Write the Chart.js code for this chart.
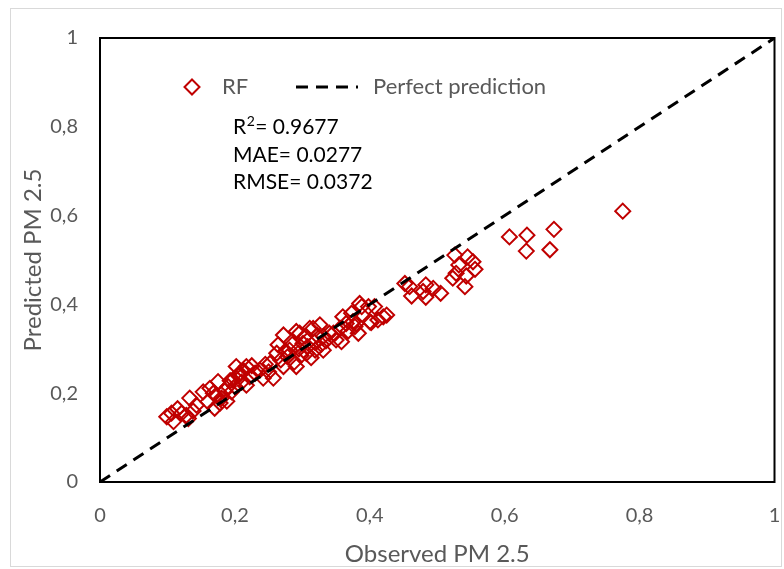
<!DOCTYPE html>
<html>
<head>
<meta charset="utf-8">
<script src="https://cdn.jsdelivr.net/npm/chart.js@4/dist/chart.umd.min.js"></script>
<style>
  body { margin: 0; background: #fff; }
  #wrap { width: 784px; height: 569px; position: relative; }
</style>
</head>
<body>
<div id="wrap"><canvas id="pmChart"></canvas></div>
<script>
// Observed vs predicted PM 2.5 (normalised)
const observed = [
    0.099, 0.109, 0.106, 0.121, 0.115, 0.128, 0.131, 0.133, 0.143, 0.138,
    0.153, 0.160, 0.163, 0.170, 0.175, 0.180, 0.172, 0.185, 0.190, 0.195,
    0.200, 0.202, 0.178, 0.168, 0.188, 0.193, 0.197, 0.205, 0.210, 0.213,
    0.217, 0.217, 0.207, 0.222, 0.225, 0.230, 0.237, 0.242, 0.245, 0.250,
    0.252, 0.257, 0.262, 0.264, 0.268, 0.272, 0.272, 0.275, 0.278, 0.281,
    0.285, 0.288, 0.291, 0.291, 0.295, 0.296, 0.298, 0.301, 0.304, 0.306,
    0.308, 0.311, 0.313, 0.316, 0.318, 0.319, 0.322, 0.326, 0.328, 0.331,
    0.331, 0.335, 0.340, 0.346, 0.350, 0.356, 0.358, 0.360, 0.365, 0.368,
    0.373, 0.375, 0.378, 0.380, 0.383, 0.385, 0.388, 0.398, 0.400, 0.402,
    0.407, 0.412, 0.420, 0.425, 0.452, 0.459, 0.462, 0.479, 0.483, 0.483,
    0.494, 0.505, 0.523, 0.526, 0.528, 0.532, 0.541, 0.543, 0.545, 0.553,
    0.556, 0.607, 0.632, 0.633, 0.667, 0.673, 0.775
];
const predicted = [
    0.147, 0.136, 0.155, 0.155, 0.165, 0.150, 0.143, 0.189, 0.173, 0.160,
    0.203, 0.181, 0.211, 0.166, 0.226, 0.189, 0.195, 0.205, 0.215, 0.203,
    0.215, 0.260, 0.178, 0.200, 0.182, 0.228, 0.230, 0.240, 0.225, 0.250,
    0.218, 0.260, 0.245, 0.237, 0.262, 0.245, 0.252, 0.234, 0.265, 0.248,
    0.267, 0.234, 0.290, 0.309, 0.275, 0.260, 0.331, 0.295, 0.282, 0.297,
    0.310, 0.270, 0.260, 0.339, 0.300, 0.335, 0.285, 0.312, 0.328, 0.290,
    0.305, 0.346, 0.280, 0.346, 0.315, 0.297, 0.330, 0.354, 0.310, 0.328,
    0.297, 0.318, 0.335, 0.335, 0.320, 0.346, 0.316, 0.372, 0.357, 0.340,
    0.380, 0.361, 0.350, 0.357, 0.335, 0.402, 0.395, 0.395, 0.361, 0.359,
    0.395, 0.365, 0.372, 0.376, 0.447, 0.440, 0.419, 0.429, 0.444, 0.416,
    0.436, 0.425, 0.459, 0.511, 0.470, 0.489, 0.440, 0.464, 0.507, 0.496,
    0.479, 0.552, 0.520, 0.556, 0.523, 0.569, 0.610
];
const axisTicks = [0, 0.2, 0.4, 0.6, 0.8, 1];
const r2Text = '0.9677';
const maeText = 'MAE= 0.0277';
const rmseText = 'RMSE= 0.0372';

const FONT = 'Lato, "Liberation Sans", sans-serif';
const GREY = '#595959';
const RED = '#C00000';

const points = observed.map((x, i) => ({ x: x, y: predicted[i] }));

// frame, outer border, legend and the stats text
const decorPlugin = {
    id: 'decor',
    beforeDraw(chart) {
        const ctx = chart.ctx;
        ctx.save();
        ctx.fillStyle = '#fff';
        ctx.fillRect(0, 0, chart.width, chart.height);
        ctx.strokeStyle = '#d9d9d9';
        ctx.lineWidth = 1;
        ctx.strokeRect(10.5, 8.5, chart.width - 13, chart.height - 11);
        ctx.restore();
    },
    afterDraw(chart) {
        const ctx = chart.ctx;
        const a = chart.chartArea;
        ctx.save();
        ctx.strokeStyle = '#000';
        ctx.lineWidth = 2;
        ctx.strokeRect(a.left, a.top, a.right - a.left, a.bottom - a.top);

        // legend
        const ly = 87;
        ctx.strokeStyle = RED;
        ctx.lineWidth = 2;
        ctx.beginPath();
        ctx.moveTo(192, ly - 7.5);
        ctx.lineTo(199.5, ly);
        ctx.lineTo(192, ly + 7.5);
        ctx.lineTo(184.5, ly);
        ctx.closePath();
        ctx.stroke();

        ctx.strokeStyle = '#000';
        ctx.lineWidth = 3;
        ctx.setLineDash([12, 8]);
        ctx.beginPath();
        ctx.moveTo(296, ly);
        ctx.lineTo(358, ly);
        ctx.stroke();
        ctx.setLineDash([]);

        ctx.fillStyle = GREY;
        ctx.font = '22px ' + FONT;
        ctx.textBaseline = 'middle';
        ctx.fillText('RF', 222, ly);
        ctx.fillText('Perfect prediction', 373, ly);

        // metrics, R with a raised 2
        ctx.fillStyle = '#000';
        ctx.font = '21px ' + FONT;
        let x = 233;
        ctx.fillText('R', x, 127);
        x += ctx.measureText('R').width;
        ctx.font = '14px ' + FONT;
        ctx.fillText('2', x + 0.5, 121);
        x += ctx.measureText('2').width + 1;
        ctx.font = '21px ' + FONT;
        ctx.fillText('= ' + r2Text, x, 127);
        ctx.fillText(maeText, 233, 155);
        ctx.fillText(rmseText, 233, 182);
        ctx.restore();
    }
};

const tickLabel = v => String(Math.round(v * 10) / 10).replace('.', ',');

new Chart(document.getElementById('pmChart'), {
    type: 'scatter',
    data: {
        datasets: [{
            type: 'line',
            label: 'Perfect prediction',
            data: [{ x: 0, y: 0 }, { x: 1, y: 1 }],
            borderColor: '#000',
            borderWidth: 3,
            borderDash: [12, 8],
            pointRadius: 0,
            order: 0
        }, {
            label: 'RF',
            data: points,
            pointStyle: 'rectRot',
            pointRadius: 7.5,
            borderColor: RED,
            borderWidth: 2,
            backgroundColor: 'rgba(0,0,0,0)',
            order: 1
        }]
    },
    options: {
        responsive: true,
        maintainAspectRatio: false,
        animation: false,
        layout: { padding: { left: 10, right: 9, top: 38, bottom: 0 } },
        plugins: {
            legend: { display: false },
            tooltip: { enabled: false }
        },
        scales: {
            x: {
                type: 'linear',
                min: 0,
                max: 1,
                afterBuildTicks: scale => { scale.ticks = axisTicks.map(v => ({ value: v })); },
                afterFit: scale => {
                    scale.height = 87;
                    scale.paddingLeft = 0;
                    scale.paddingRight = 0;
                },
                grid: { display: false, drawTicks: false },
                border: { display: false },
                ticks: {
                    padding: 22,
                    color: GREY,
                    font: { family: FONT, size: 20 },
                    callback: tickLabel
                },
                title: {
                    display: true,
                    text: 'Observed PM 2.5',
                    color: GREY,
                    font: { family: FONT, size: 24 },
                    padding: { top: 4, bottom: 0 }
                }
            },
            y: {
                type: 'linear',
                min: 0,
                max: 1,
                afterBuildTicks: scale => { scale.ticks = axisTicks.map(v => ({ value: v })); },
                afterFit: scale => {
                    scale.width = 90;
                    scale.paddingTop = 0;
                    scale.paddingBottom = 0;
                },
                grid: { display: false, drawTicks: false },
                border: { display: false },
                ticks: {
                    padding: 22,
                    color: GREY,
                    font: { family: FONT, size: 20 },
                    callback: tickLabel
                },
                title: {
                    display: true,
                    text: 'Predicted PM 2.5',
                    color: GREY,
                    font: { family: FONT, size: 24 },
                    padding: { top: 9, bottom: 0 }
                }
            }
        }
    },
    plugins: [decorPlugin]
});
</script>
</body>
</html>
